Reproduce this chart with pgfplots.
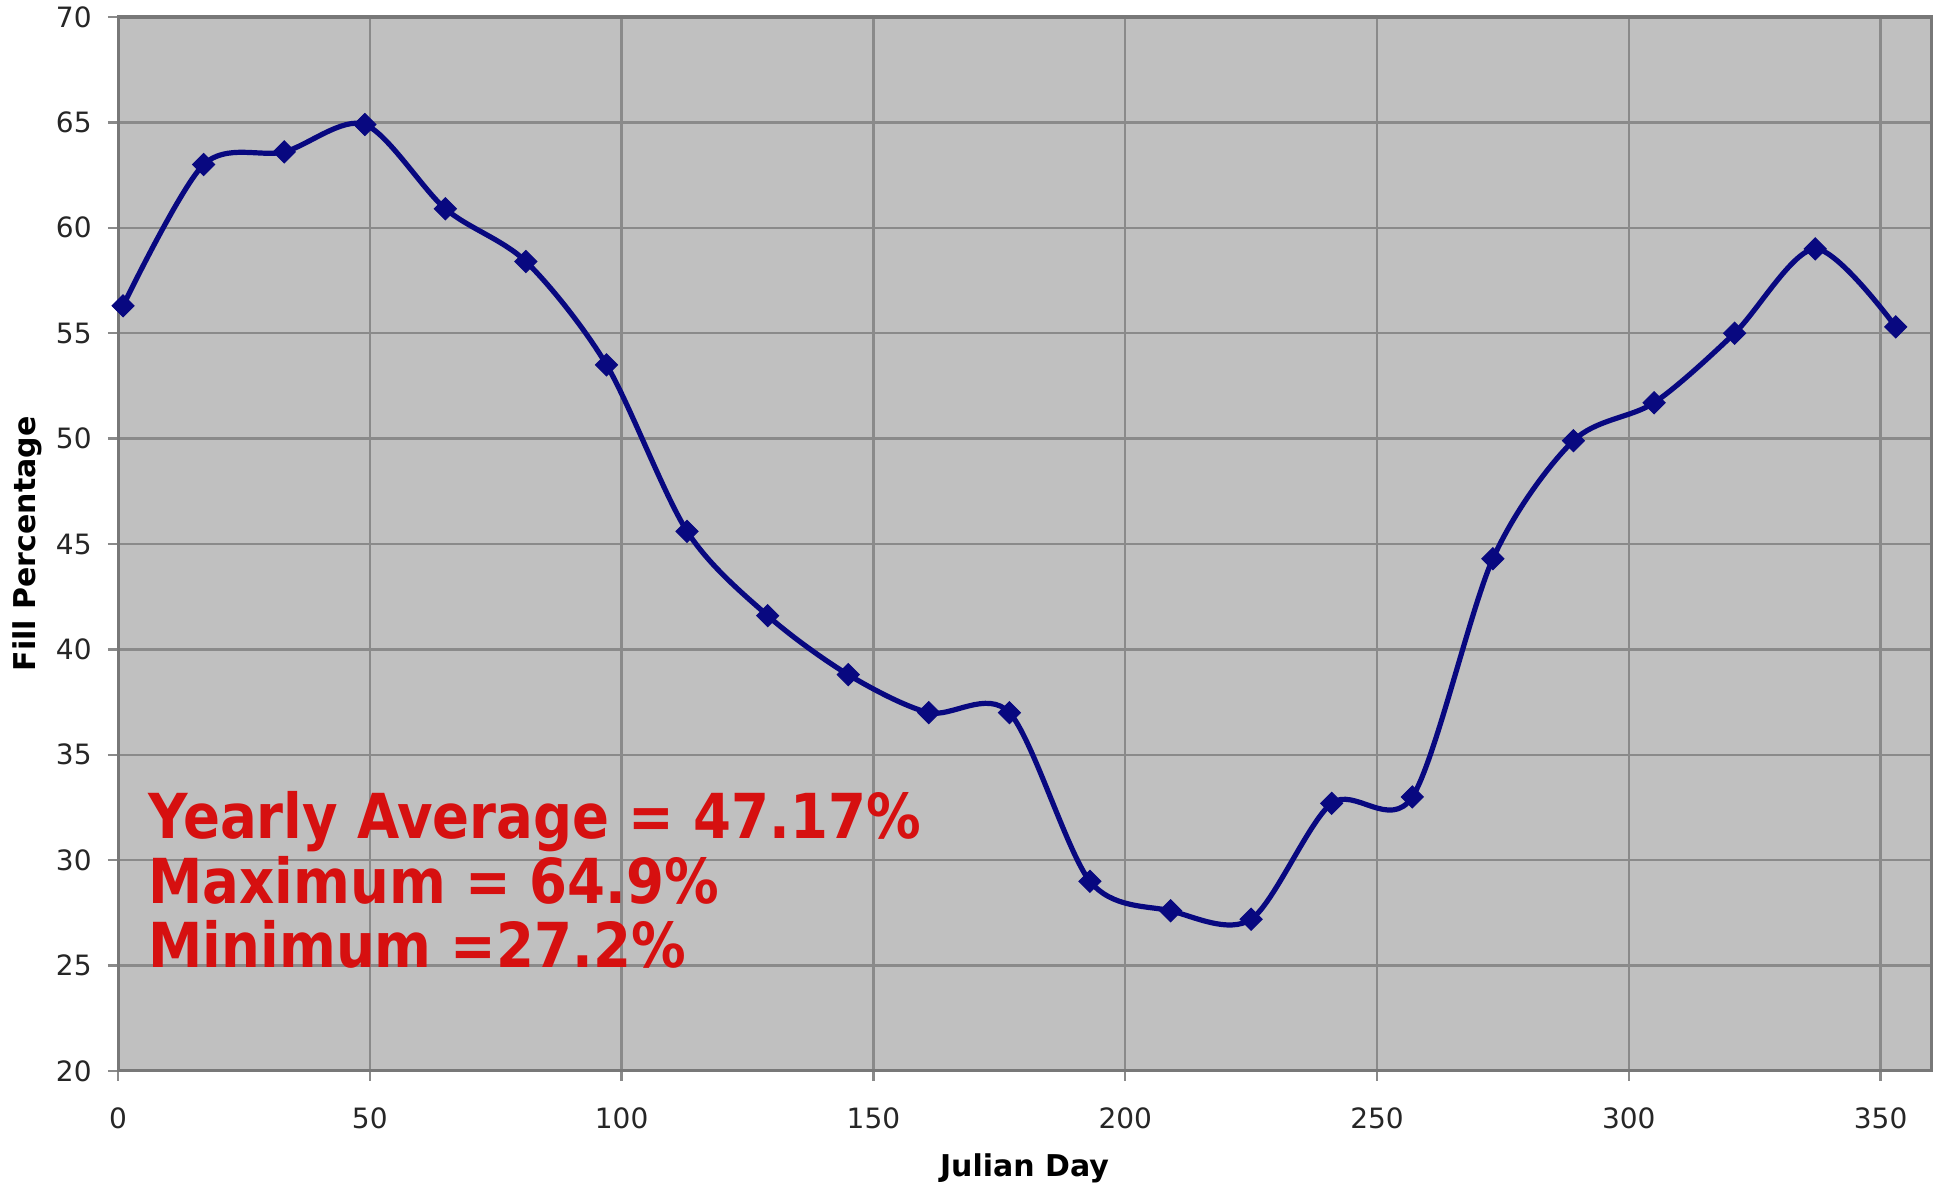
\documentclass[border=0pt]{standalone}
\usepackage{pgfplots}
\pgfplotsset{compat=1.18}
\usepackage{fontspec}
\setmainfont{DejaVu Sans}
\newfontfamily\annfont[FakeStretch=0.88]{DejaVu Sans}
\definecolor{bggray}{RGB}{192,192,192}
\definecolor{gridgray}{RGB}{138,138,138}
\definecolor{axgray}{RGB}{120,120,120}
\definecolor{navyline}{RGB}{8,8,128}
\definecolor{annred}{RGB}{214,16,16}
\begin{document}
\begin{tikzpicture}
\useasboundingbox (0,0) rectangle (970pt,591.5pt);
\begin{axis}[
  at={(59pt,56pt)}, anchor=south west,
  scale only axis,
  width=906.5pt, height=527pt,
  xmin=0, xmax=360, ymin=20, ymax=70,
  xtick={0,50,...,350}, ytick={20,25,...,70},
  grid=major,
  major grid style={draw=gridgray, line width=1.2pt},
  axis line style={draw=axgray, line width=1.5pt},
  axis background/.style={fill=bggray},
  tick align=outside,
  major tick length=5pt,
  tick style={draw=gridgray, line width=1.2pt},
  xtick pos=bottom, ytick pos=left,
  /pgf/number format/assume math mode=true,
  tick label style={font=\fontsize{14}{16}\selectfont, text=black!85},
  yticklabel style={inner sep=0pt, anchor=east, xshift=-8pt},
  xticklabel style={inner sep=0pt, anchor=north, yshift=-13pt},
  xlabel={Julian Day},
  ylabel={Fill Percentage},
  label style={font=\bfseries\fontsize{15}{17}\selectfont},
  xlabel style={at={(axis description cs:0.5,-0.092)}, anchor=center},
  ylabel style={at={(axis description cs:-0.0502,0.5)}, anchor=center},
]
\addplot[color=navyline, line width=2.6pt, smooth, mark=square*, mark size=3.9pt,
  mark options={rotate=45, fill=navyline, draw=navyline, line width=0.5pt}]
  coordinates {
  (1,56.3) (17,63.0) (33,63.6) (49,64.9) (65,60.9) (81,58.4) (97,53.5)
  (113,45.6) (129,41.6) (145,38.8) (161,37.0) (177,37.0) (193,29.0)
  (209,27.6) (225,27.2) (241,32.7) (257,33.0) (273,44.3) (289,49.9)
  (305,51.7) (321,55.0) (337,59.0) (353,55.3)
  };
\node[anchor=base west, align=left, inner sep=0pt, text=annred,
  font=\annfont\bfseries\fontsize{31}{32.25}\selectfont] at (axis cs:6,24.9)
  {Yearly Average = 47.17\%\\Maximum = 64.9\%\\Minimum =27.2\%};
\end{axis}
\end{tikzpicture}
\end{document}
